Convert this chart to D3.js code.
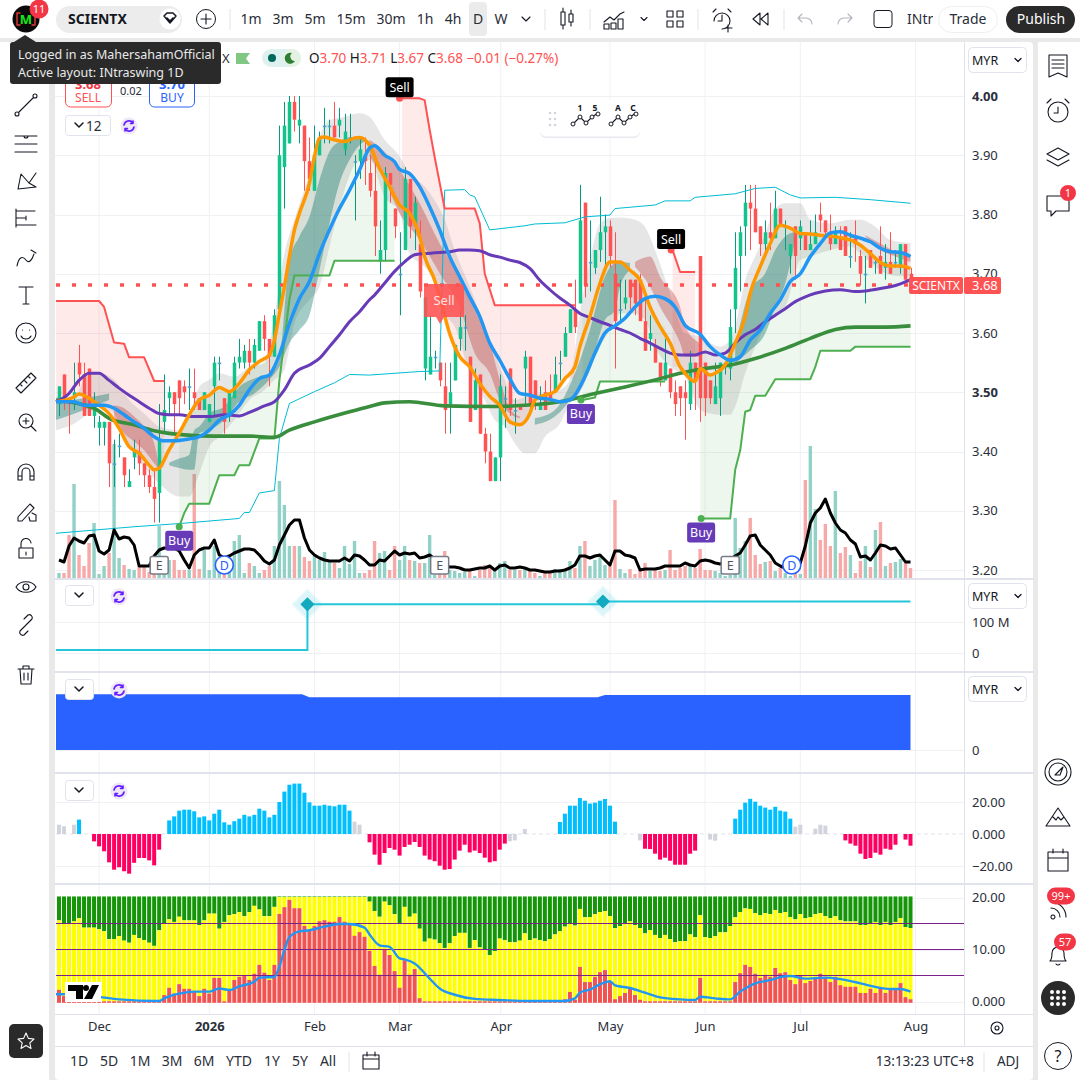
<!DOCTYPE html>
<html>
<head>
<meta charset="utf-8">
<script src="https://d3js.org/d3.v7.min.js"></script>
<style>
html, body { margin: 0; padding: 0; background: #fff; }
svg { display: block; font-family: "Noto Sans", sans-serif; }
.axis path, .axis line { display: none; }
.axis text { font-family: "Noto Sans", sans-serif; font-size: 13px; fill: #2a2e39; }
</style>
</head>
<body>
<div id="chart"></div>
<script>
// daily candles, Nov 2025 -> Jul 2026
var open = [
3.48,3.53,3.49,3.49,3.55,3.53,3.54,3.46,3.44,3.44,
3.45,3.38,3.41,3.39,3.34,3.39,3.40,3.38,3.36,3.34,
3.33,3.45,3.49,3.50,3.52,3.51,3.51,3.50,3.49,3.47,
3.45,3.51,3.55,3.49,3.46,3.49,3.55,3.55,3.57,3.55,
3.57,3.62,3.59,3.56,3.64,3.88,3.92,3.99,3.95,3.95,
3.89,3.84,3.90,3.95,3.95,3.95,3.95,3.91,3.93,3.89,
3.89,3.90,3.87,3.84,3.72,3.74,3.87,3.81,3.70,3.74,
3.86,3.78,3.75,3.54,3.53,3.56,3.55,3.51,3.48,3.52,
3.59,3.61,3.56,3.47,3.53,3.43,3.40,3.35,3.39,3.49,
3.54,3.47,3.48,3.54,3.56,3.52,3.47,3.50,3.50,3.50,
3.55,3.56,3.60,3.64,3.65,3.82,3.72,3.71,3.74,3.77,
3.78,3.70,3.64,3.65,3.69,3.69,3.69,3.62,3.59,3.58,
3.55,3.52,3.54,3.50,3.51,3.50,3.48,3.55,3.73,3.55,
3.52,3.48,3.49,3.55,3.54,3.64,3.73,3.78,3.82,3.81,
3.78,3.75,3.77,3.76,3.81,3.78,3.73,3.78,3.76,3.77,
3.74,3.75,3.80,3.79,3.77,3.75,3.76,3.78,3.73,3.76,
3.73,3.70,3.74,3.72,3.73,3.71,3.72,3.72,3.71,3.75,3.70];
var high = [
3.51,3.53,3.49,3.55,3.58,3.55,3.54,3.50,3.46,3.45,
3.45,3.42,3.43,3.39,3.37,3.42,3.42,3.38,3.37,3.37,
3.48,3.53,3.51,3.50,3.52,3.52,3.54,3.54,3.49,3.50,
3.48,3.56,3.56,3.49,3.50,3.56,3.59,3.58,3.59,3.59,
3.62,3.63,3.59,3.64,3.95,3.99,4.00,4.00,4.00,3.95,
3.93,3.95,3.94,3.98,3.96,3.99,3.98,3.97,3.97,3.90,
3.93,3.93,3.90,3.90,3.79,3.88,3.87,3.81,3.77,3.88,
3.86,3.83,3.79,3.66,3.63,3.57,3.55,3.55,3.55,3.58,
3.64,3.63,3.56,3.54,3.53,3.44,3.43,3.39,3.53,3.51,
3.54,3.49,3.48,3.57,3.56,3.52,3.51,3.52,3.53,3.56,
3.57,3.61,3.64,3.69,3.85,3.82,3.79,3.74,3.83,3.80,
3.79,3.77,3.69,3.69,3.69,3.69,3.70,3.66,3.63,3.59,
3.55,3.59,3.54,3.52,3.51,3.52,3.57,3.55,3.73,3.55,
3.52,3.55,3.55,3.55,3.64,3.77,3.78,3.85,3.85,3.85,
3.78,3.79,3.82,3.84,3.81,3.79,3.75,3.78,3.79,3.77,
3.79,3.80,3.82,3.79,3.80,3.78,3.78,3.78,3.77,3.79,
3.74,3.73,3.74,3.73,3.78,3.75,3.77,3.74,3.75,3.75,3.71];
var low = [
3.46,3.47,3.43,3.47,3.51,3.46,3.46,3.44,3.41,3.41,
3.34,3.34,3.39,3.34,3.34,3.37,3.36,3.34,3.33,3.28,
3.28,3.43,3.46,3.43,3.46,3.48,3.47,3.47,3.47,3.47,
3.45,3.46,3.52,3.43,3.45,3.49,3.54,3.54,3.53,3.54,
3.57,3.57,3.51,3.56,3.64,3.81,3.92,3.94,3.92,3.84,
3.84,3.84,3.90,3.92,3.92,3.93,3.93,3.90,3.92,3.79,
3.86,3.85,3.83,3.73,3.70,3.72,3.82,3.76,3.63,3.74,
3.76,3.74,3.66,3.52,3.53,3.54,3.51,3.43,3.43,3.52,
3.57,3.57,3.45,3.47,3.43,3.38,3.35,3.35,3.35,3.44,
3.46,3.43,3.47,3.48,3.47,3.47,3.47,3.47,3.49,3.50,
3.52,3.56,3.60,3.60,3.65,3.66,3.67,3.70,3.72,3.71,
3.71,3.54,3.62,3.64,3.64,3.63,3.62,3.57,3.57,3.55,
3.51,3.52,3.49,3.46,3.46,3.42,3.47,3.47,3.45,3.46,
3.48,3.48,3.46,3.53,3.52,3.60,3.67,3.73,3.74,3.77,
3.73,3.73,3.74,3.76,3.78,3.74,3.70,3.69,3.74,3.74,
3.74,3.75,3.77,3.76,3.74,3.75,3.74,3.73,3.71,3.72,
3.68,3.65,3.71,3.70,3.70,3.69,3.70,3.71,3.70,3.69,3.67];
var close = [
3.51,3.49,3.48,3.50,3.53,3.46,3.46,3.47,3.45,3.45,
3.38,3.38,3.41,3.36,3.35,3.40,3.38,3.36,3.34,3.32,
3.42,3.47,3.50,3.48,3.49,3.50,3.51,3.49,3.47,3.50,
3.48,3.55,3.55,3.45,3.50,3.55,3.56,3.57,3.55,3.58,
3.62,3.59,3.56,3.63,3.90,3.95,3.99,3.96,3.96,3.89,
3.86,3.90,3.93,3.95,3.95,3.93,3.96,3.94,3.93,3.89,
3.91,3.89,3.84,3.78,3.74,3.87,3.85,3.78,3.70,3.86,
3.78,3.82,3.67,3.66,3.56,3.56,3.52,3.47,3.50,3.58,
3.61,3.61,3.45,3.52,3.43,3.40,3.35,3.39,3.51,3.49,
3.47,3.47,3.47,3.56,3.48,3.49,3.48,3.47,3.49,3.53,
3.55,3.60,3.64,3.61,3.79,3.68,3.72,3.74,3.77,3.78,
3.73,3.62,3.64,3.66,3.66,3.65,3.62,3.57,3.60,3.55,
3.52,3.55,3.50,3.48,3.49,3.49,3.55,3.52,3.49,3.49,
3.49,3.51,3.55,3.55,3.61,3.71,3.77,3.82,3.81,3.77,
3.75,3.77,3.76,3.81,3.78,3.78,3.75,3.73,3.78,3.74,
3.75,3.77,3.79,3.77,3.75,3.77,3.74,3.73,3.73,3.75,
3.70,3.70,3.71,3.72,3.70,3.72,3.70,3.72,3.75,3.69,3.68];
var volume = [
5,5,43,94,23,12,35,55,4,12,
25,134,20,13,9,8,12,12,6,8,
52,17,18,18,8,8,8,104,9,28,
8,32,7,8,18,37,43,5,15,12,
5,8,12,32,97,73,32,32,32,21,
17,22,18,26,18,15,10,32,14,37,
5,5,8,37,25,27,8,32,18,32,
18,17,15,15,43,3,8,27,8,7,
5,6,7,2,8,13,10,8,15,17,
8,8,8,10,7,5,2,5,5,9,
9,8,17,10,32,37,12,18,24,13,
15,78,9,5,9,4,8,15,7,8,
7,8,28,8,10,12,12,10,29,8,
8,7,5,2,3,60,30,37,60,23,
14,16,17,7,10,5,2,5,4,98,
132,69,38,54,32,87,25,31,23,5,
17,32,11,48,56,12,15,16,19,15,10];
var blackOsc = [
18,16,32,40,37,35,42,43,27,24,
28,48,39,41,40,33,12,12,12,22,
28,30,30,30,27,18,10,23,28,30,
30,38,23,20,22,25,27,29,29,28,
23,17,14,18,33,43,53,58,58,40,
28,23,20,18,17,17,17,20,17,23,
22,18,13,13,18,17,22,27,23,25,
24,25,20,21,23,19,16,12,11,11,
10,8,8,9,10,10,12,8,12,13,
10,10,11,10,8,8,7,6,6,7,
7,8,10,13,22,22,20,22,23,18,
13,27,27,23,22,20,8,9,9,9,
10,12,12,12,12,15,13,12,17,18,
17,15,14,16,18,22,25,33,42,43,
33,28,23,15,12,10,8,10,15,32,
55,65,70,79,65,55,48,45,38,34,
21,22,18,25,33,32,29,30,23,16,16];

// moving averages, [bar, price]
var fastMA = [[-0.6,3.484],[3,3.492],[4,3.497],[6,3.49],[8,3.478],[10,3.464],[12,3.439],[14,3.408],[16,3.397],[18,3.377],[19,3.369],[20,3.372],[22,3.403],[24,3.431],[26,3.462],[28,3.487],[30,3.495],[32,3.508],[34,3.501],[36,3.515],[38,3.538],[40,3.552],[42,3.563],[43,3.588],[44,3.633],[45,3.678],[46,3.729],[47,3.774],[48,3.802],[50,3.853],[51,3.898],[52,3.929],[53,3.931],[55,3.926],[57,3.923],[59,3.929],[60,3.93],[62,3.917],[64,3.878],[66,3.847],[68,3.816],[70,3.802],[72,3.763],[73,3.729],[75,3.689],[76,3.661],[78,3.599],[80,3.56],[82,3.543],[84,3.515],[86,3.493],[88,3.478],[90,3.45],[92,3.445],[94,3.464],[95,3.487],[97,3.495],[99,3.501],[101,3.523],[103,3.543],[104,3.577],[106,3.628],[108,3.684],[110,3.72],[112,3.72],[114,3.706],[116,3.689],[118,3.644],[120,3.611],[122,3.583],[124,3.543],[125,3.532],[127,3.518],[128,3.54],[130,3.529],[131,3.532],[133,3.546],[135,3.583],[137,3.628],[138,3.667],[140,3.712],[142,3.751],[144,3.782],[146,3.777],[148,3.768],[150,3.767],[153,3.764],[156,3.761],[158,3.757],[160,3.748],[162,3.734],[164,3.719],[166,3.713],[168,3.713],[170,3.709]];
var midMA = [[-0.6,3.484],[3,3.484],[5,3.478],[9,3.478],[11,3.473],[13,3.462],[15,3.45],[17,3.439],[19,3.425],[21,3.418],[23,3.418],[25,3.42],[28,3.425],[30,3.436],[32,3.453],[34,3.462],[36,3.478],[38,3.504],[40,3.523],[42,3.529],[43,3.543],[44,3.563],[46,3.616],[48,3.658],[50,3.687],[52,3.734],[54,3.774],[56,3.81],[58,3.841],[60,3.875],[62,3.912],[63,3.916],[65,3.90],[67,3.889],[68,3.876],[70,3.869],[72,3.847],[74,3.813],[76,3.774],[78,3.729],[80,3.695],[82,3.661],[84,3.628],[86,3.583],[88,3.554],[90,3.523],[92,3.498],[94,3.495],[96,3.49],[98,3.488],[100,3.484],[102,3.487],[103,3.495],[105,3.526],[107,3.566],[109,3.60],[111,3.612],[113,3.625],[115,3.644],[117,3.658],[119,3.662],[121,3.658],[123,3.644],[125,3.613],[128,3.598],[130,3.577],[132,3.563],[134,3.554],[136,3.56],[138,3.588],[140,3.605],[142,3.633],[144,3.656],[146,3.687],[148,3.70],[150,3.729],[152,3.751],[154,3.769],[156,3.771],[158,3.765],[160,3.76],[162,3.754],[164,3.743],[166,3.737],[168,3.736],[170,3.729]];
var slowMA = [[-0.6,3.484],[2,3.498],[4,3.52],[6,3.532],[8,3.532],[10,3.52],[12,3.507],[14,3.495],[16,3.484],[18,3.473],[20,3.464],[22,3.462],[24,3.462],[27,3.459],[30,3.459],[33,3.462],[36,3.46],[38,3.466],[41,3.477],[43,3.484],[45,3.504],[47,3.532],[50,3.546],[52,3.557],[54,3.577],[56,3.597],[58,3.619],[60,3.636],[62,3.656],[63,3.664],[65,3.684],[67,3.704],[69,3.72],[71,3.732],[73,3.734],[76,3.736],[78,3.737],[80,3.74],[82,3.74],[84,3.739],[86,3.732],[88,3.728],[90,3.723],[92,3.719],[94,3.709],[96,3.689],[98,3.673],[100,3.659],[102,3.647],[104,3.633],[106,3.626],[108,3.619],[110,3.613],[112,3.606],[114,3.60],[116,3.591],[118,3.583],[120,3.574],[122,3.566],[124,3.563],[127,3.563],[129,3.568],[131,3.563],[133,3.566],[135,3.583],[137,3.597],[139,3.606],[141,3.619],[143,3.63],[145,3.641],[147,3.653],[149,3.661],[151,3.667],[153,3.671],[156,3.673],[159,3.67],[161,3.671],[164,3.675],[166,3.678],[168,3.683],[170,3.69]];
var longMA = [[-0.6,3.487],[7,3.473],[10,3.456],[15,3.445],[19,3.435],[25,3.428],[31,3.426],[38,3.426],[43,3.424],[46,3.436],[51,3.45],[58,3.467],[62,3.476],[65,3.482],[70,3.484],[77,3.477],[87,3.476],[93,3.478],[100,3.484],[107,3.498],[113,3.509],[120,3.523],[124,3.532],[129,3.54],[134,3.546],[139,3.557],[145,3.574],[150,3.591],[155,3.606],[159,3.61],[165,3.61],[170,3.612]];
var upperChannel = [[-0.6,3.262],[15,3.273],[25,3.279],[36,3.287],[37,3.297],[38,3.297],[40,3.33],[43,3.334],[44,3.422],[46,3.481],[51,3.501],[55,3.516],[58,3.53],[62,3.529],[72,3.535],[76,3.536],[77,3.841],[81,3.842],[82,3.833],[83,3.83],[86,3.774],[93,3.781],[95,3.784],[101,3.786],[105,3.796],[110,3.799],[111,3.81],[119,3.816],[121,3.823],[126,3.823],[127,3.829],[135,3.835],[139,3.844],[143,3.846],[146,3.833],[148,3.828],[155,3.829],[162,3.825],[170,3.819]];

// trailing stops, one list per trade
var sellStops = [
  [[-0.6,3.654],[8,3.654],[9,3.644],[11,3.584],[13,3.582],[14,3.559],[17,3.559],[19,3.519],[21,3.519]],
  [[68.5,3.996],[72,3.996],[73,3.993],[74,3.943],[75,3.897],[77,3.81],[83,3.81],[84,3.785],[85,3.70],[87,3.647],[103,3.647]],
  [[122.5,3.74],[124,3.703],[127,3.703]]
];
var buyStops = [
  [[24,3.273],[25,3.296],[26,3.312],[30,3.312],[32,3.36],[35,3.36],[36,3.377],[38,3.377],[40,3.422],[43,3.422],[44,3.52],[46,3.656],[47,3.697],[54,3.697],[55,3.722],[67,3.722]],
  [[104.5,3.487],[107,3.491],[108,3.518],[121,3.518]],
  [[128,3.287],[134,3.287],[135,3.369],[136,3.402],[137,3.467],[138,3.47],[139,3.494],[141,3.494],[143,3.522],[150,3.522],[151,3.543],[152,3.57],[158,3.57],[159,3.577],[170,3.577]]
];

// cloud and ribbons, [bar, top, bottom]
var grayCloud = [[-0.6,3.492,3.436],[3,3.492,3.447],[6,3.532,3.464],[8,3.532,3.476],[11,3.521,3.464],[14,3.487,3.408],[17,3.464,3.374],[20,3.442,3.346],[24,3.436,3.324],[26,3.464,3.324],[28,3.509,3.363],[30,3.521,3.408],[32,3.532,3.425],[35,3.526,3.453],[38,3.543,3.487],[41,3.549,3.504],[43,3.628,3.521],[45,3.734,3.538],[47,3.791,3.616],[50,3.869,3.656],[52,3.931,3.678],[54,3.959,3.746],[57,3.965,3.841],[60,3.971,3.892],[62,3.965,3.892],[65,3.926,3.83],[68,3.898,3.802],[70,3.869,3.734],[73,3.847,3.712],[75,3.824,3.689],[77,3.791,3.633],[79,3.74,3.611],[82,3.678,3.532],[85,3.611,3.487],[87,3.566,3.453],[89,3.521,3.442],[91,3.487,3.414],[93,3.492,3.397],[95,3.498,3.397],[97,3.498,3.425],[100,3.504,3.447],[102,3.521,3.481],[104,3.633,3.498],[106,3.723,3.538],[108,3.785,3.577],[110,3.794,3.605],[112,3.795,3.633],[115,3.791,3.633],[117,3.779,3.622],[119,3.74,3.577],[122,3.667,3.543],[125,3.599,3.526],[128,3.594,3.47],[130,3.583,3.464],[132,3.577,3.462],[134,3.588,3.462],[135,3.611,3.476],[137,3.689,3.532],[139,3.729,3.577],[141,3.768,3.611],[143,3.81,3.633],[145,3.819,3.644],[148,3.819,3.723],[150,3.791,3.729],[154,3.785,3.74],[158,3.791,3.746],[160,3.791,3.734],[163,3.779,3.712],[166,3.757,3.698],[170,3.752,3.695]];
var tealRibbons = [
  [[-0.6,3.484,3.453],[5,3.49,3.47],[10,3.498,3.487]],
  [[22,3.381,3.377],[24,3.388,3.372],[26,3.394,3.369],[27,3.436,3.369],[28,3.442,3.431],[30,3.464,3.436],[33,3.476,3.453],[36,3.509,3.484],[39,3.523,3.498],[42,3.532,3.521],[44,3.554,3.543],[46,3.723,3.583],[48,3.763,3.605],[50,3.796,3.63],[52,3.858,3.706],[54,3.906,3.785],[56,3.923,3.853],[58,3.931,3.892],[60,3.931,3.917],[61,3.929,3.923]],
  [[95,3.456,3.445],[99,3.47,3.459],[103,3.532,3.498],[106,3.605,3.543],[109,3.695,3.622],[111,3.718,3.639],[112,3.72,3.678],[114,3.718,3.706]],
  [[135,3.577,3.549],[138,3.673,3.571],[141,3.701,3.599],[143,3.74,3.644],[145,3.763,3.684],[147,3.771,3.757]]
];
var redRibbons = [
  [[11,3.478,3.453],[13,3.473,3.431],[15,3.459,3.417],[17,3.442,3.402],[19,3.414,3.38],[20,3.374,3.369]],
  [[62,3.926,3.898],[65,3.906,3.858],[68,3.875,3.802],[72,3.819,3.757],[76,3.751,3.701],[80,3.695,3.644],[83,3.639,3.566],[86,3.583,3.532],[88,3.521,3.487],[90,3.473,3.464],[92,3.459,3.456]],
  [[115,3.72,3.712],[118,3.729,3.678],[120,3.695,3.644],[124,3.644,3.583],[125,3.611,3.56],[128,3.583,3.56]],
  [[161,3.765,3.763],[164,3.751,3.74],[167,3.737,3.729],[170,3.729,3.72]]
];

// pane 2 and 3 step values
var dividendLine = [[-0.6,10],[49.6,10],[49.6,157],[108.6,157],[108.6,166],[170,166]];
var blueBlock = [[-0.6,172],[48.5,172],[50,163],[107.5,163],[109,170],[170,170]];

// pane 4 histogram
var histogram = [
5.8,4.8,0,5.8,9,0,0,-4.6,-7.7,-10.8,
-17.7,-22.3,-20.8,-23.3,-24.8,-18,-15,-15,-16.5,-19.6,
-9.8,0,8.5,11,14.6,15.2,15.2,14.2,10.4,11,
8.5,12.7,15.2,7.3,5.8,8,9.6,12,11,12,
15.8,14.6,10.4,12,20,26.5,30.8,31.5,31.5,25.8,
19.8,17.7,17.7,18.3,17.7,17.3,18.3,18.3,14.6,7.7,
5.8,0,-5.2,-12.9,-19.2,-11.9,-8.75,-9.8,-13.5,-8.1,
-6.7,-5,-8.1,-13.5,-16,-17,-19.8,-22.3,-21.9,-16,
-10.4,-6.7,-11.5,-10.4,-11.9,-14.8,-17.7,-17,-9.8,-6,
-4.6,-4,0,3.1,0,0,0,0,0,0,
7.5,12.7,17.7,17.7,22.5,20.8,19,19.6,20.8,21.9,
17.7,7.7,0,0,0,0,-4,-9.2,-9.4,-12.3,
-16,-14.8,-16.7,-19.2,-19.2,-19.2,-12.3,-10.4,0,0,
-3.5,-4.2,0,0,0,9.6,15.2,19.6,22,20.2,
17.7,16.5,15.2,17,14.6,14,9.6,4.6,5.8,0,
0,3.3,5.8,5.2,0,0,0,-4,-6,-7.3,
-12.3,-15.6,-15,-11.7,-12.9,-9.2,-9.8,-6.7,0,-3.5,-7.3];
var histGray = [0,1,3,59,60,90,91,93,116,130,131,147,148,151,152,153];

// pane 5 stacked columns
var yellowTop = [
15.6,15,15,15.4,16,14.2,14.2,14.2,13.9,13.5,
12,12,12.6,11.7,11.3,12.8,12.2,11.8,11.3,10.7,
13.7,15,15.8,15.3,16.3,15.6,15.6,15.6,14.7,15.6,
16.9,16.9,14,15.3,16.6,16.8,17.2,16.4,17.2,18.4,
17.7,16.4,16.4,18.2,20.1,20.1,20.1,20.1,20.1,20.1,
20.1,20.1,20.1,20.1,20.1,20.1,20.1,20.1,20.1,20.1,
20.1,20.1,19.2,17.4,16.3,19.2,18.5,16.8,15,18.2,
16.3,16.9,14,11.5,12.1,11.9,11.2,10.3,11.2,12.6,
13.2,13.2,10.3,11.8,10.4,9.9,8.9,9.7,12.1,11.8,
11.4,11.4,11.7,13.1,11.8,12.1,11.8,11.6,12,12.9,
13.5,14.4,14.9,14.6,17.8,16.2,16.2,16.8,17.2,17.4,
16.4,14.1,14.5,14.9,15.4,14.7,14.1,13.1,13.7,12.8,
12.2,12.8,12,11.4,11.6,11.6,12.9,12.4,16.6,12.4,
12.2,12.6,13.3,13.3,14.5,16.2,17.2,17.9,17.8,17,
16.6,17,16.8,17.6,17,17.2,16.2,15.8,16.8,16,
16.2,16.8,17,16.4,16,16.4,15.6,15.4,15.4,15.4,
14.7,14.7,14.9,15.3,14.7,15.3,14.7,15.3,16,14.3,14.1];
var redTop = [
2.2,1,1,.1,.1,.1,.1,.1,0,0,
0,0,0,0,0,0,0,0,0,0,
0,1.2,2.6,1.5,3.3,2.4,2.4,1.9,1,2.4,
1.5,4.5,4.5,0,2.2,4.1,4.7,5,4.1,5.3,
7,5.5,4.1,7,16.8,18.1,19.5,17.9,17.9,14.5,
13.7,14.5,15.4,15.6,15.3,15.3,16.2,15.3,14.7,12.6,
13.3,12.4,9.7,6.8,5.1,9.9,8.9,5.8,2.6,7.9,
5.1,6.2,.6,0,0,0,0,0,0,0,
0,0,0,0,0,0,0,0,0,0,
0,0,0,0,0,0,0,0,0,0,
0,.4,1.8,.3,6.6,3.7,3.7,4.7,5.6,6,
3.7,.4,1,1.6,2.6,1.2,.3,0,0,0,
0,0,0,0,0,0,0,0,4.5,0,
0,0,0,0,0,3.7,5.4,7,6.6,5.3,
4.5,5.1,4.7,6.4,5.4,5.6,4.1,3.3,4.9,3.5,
3.9,4.3,5.3,4.7,3.7,4.7,3.1,2.8,2.8,2.8,
1.6,1.6,2.4,1.6,2.6,1.6,2.4,2.2,3.5,.8,.4];
var pressureLine = [[-0.6,1.4],[3,1.4],[8,.9],[12,.4],[20,.1],[21,.6],[24,1.5],[27,1.9],[30,1.9],[32,2.5],[34,2.2],[36,2.9],[39,3.8],[40,4.6],[43,4.7],[44,6.7],[45,9.9],[46,12.4],[48,13.5],[50,13.7],[53,14.4],[56,14.9],[58,14.9],[61,14.2],[62,12.9],[64,10.8],[66,10.5],[68,8.3],[69,8.1],[71,7.3],[74,4.4],[76,2.5],[79,1.3],[83,.5],[88,.3],[94,.1],[101,.1],[103,.6],[104,1.7],[106,2.3],[108,3.3],[110,3.9],[111,3.1],[114,2.6],[117,1.7],[120,.8],[124,.4],[127,.3],[128,.9],[131,.6],[134,.4],[136,1.9],[139,3.5],[142,4.1],[144,4.7],[146,4.9],[149,4.4],[153,4.6],[156,4.3],[160,3.5],[163,2.8],[166,2.4],[168,2.4],[170,1.9]];
var refLevels = [15,10,5];

// axes
var priceTicks = [4.0,3.9,3.8,3.7,3.6,3.5,3.4,3.3,3.2];
var boldPrices = [4.0,3.5];
var timeTicks = [8,30,51,68,88.2,110,129,148,171];
var timeLabels = ["Dec","2026","Feb","Mar","Apr","May","Jun","Jul","Aug"];
var rangeButtons = ["1D","5D","1M","3M","6M","YTD","1Y","5Y","All"];
var intervals = ["1m","3m","5m","15m","30m","1h","4h","D","W"];
var earningsBars = [20,76,134];
var dividendBars = [33,146.3];
var signals = [
  {bar:68,price:3.996,text:"Sell"},
  {bar:122.2,price:3.74,text:"Sell"},
  {bar:24,price:3.273,text:"Buy"},
  {bar:104.2,price:3.487,text:"Buy"},
  {bar:128.2,price:3.287,text:"Buy"}
];

var svg = d3.select("#chart").append("svg").attr("width",1080).attr("height",1080);
var ink = "#131722", gridCol = "#f0f1f5", sepCol = "#e0e3eb";
var upCol = "#12c48c", upWick = "#089981", downCol = "#ff5252", purple = "#673ab7";

var x = d3.scaleLinear().domain([0,170]).range([59,910.5]);
var y = d3.scaleLinear().domain([3.2,4.0]).range([570,96]);
var volY = d3.scaleLinear().domain([0,150]).range([578,428]);
var oscY = d3.scaleLinear().domain([0,60]).range([578,518]);
var divY = d3.scaleLinear().domain([0,100]).range([653,622]);
var blockY = d3.scaleLinear().domain([0,170]).range([750,695]);
var histY = d3.scaleLinear().domain([-20,20]).range([866,802]);
var stackY = d3.scaleLinear().domain([0,20]).range([1001.5,897.5]);

// chrome background
svg.append("rect").attr("width",1080).attr("height",1080).attr("fill","#e9e9e9");
svg.append("rect").attr("x",0).attr("y",0).attr("width",1080).attr("height",38).attr("fill","#fff");
svg.append("rect").attr("x",0).attr("y",42).attr("width",49).attr("height",1038).attr("fill","#fff");
svg.append("rect").attr("x",1038).attr("y",42).attr("width",42).attr("height",1038).attr("fill","#fff");
svg.append("rect").attr("x",55).attr("y",42).attr("width",978).attr("height",1038).attr("fill","#fff").attr("rx",4);

// grid
var panes = [[42,578],[580,671],[673,772],[774,883],[885,1014]];
var grid = svg.append("g");
panes.forEach(function(p) {
  grid.selectAll(null).data(timeTicks).enter().append("line")
    .attr("x1",function(d){return x(d);}).attr("x2",function(d){return x(d);})
    .attr("y1",p[0]).attr("y2",p[1]).attr("stroke",gridCol);
});
function hGrid(vals,scale) {
  grid.selectAll(null).data(vals).enter().append("line")
    .attr("x1",55).attr("x2",964)
    .attr("y1",function(d){return Math.round(scale(d))+.5;}).attr("y2",function(d){return Math.round(scale(d))+.5;})
    .attr("stroke",gridCol);
}
hGrid(priceTicks,y);
hGrid([100,0],divY);
hGrid([0],blockY);
hGrid([20,-20],histY);
hGrid([20,10,0],stackY);
[578,579,671,672,772,773,883,884,1014].forEach(function(v) {
  grid.append("line").attr("x1",55).attr("x2",1033).attr("y1",v+.5).attr("y2",v+.5).attr("stroke",sepCol);
});
grid.append("line").attr("x1",964.5).attr("x2",964.5).attr("y1",42).attr("y2",1046).attr("stroke",sepCol);
grid.append("line").attr("x1",55).attr("x2",1033).attr("y1",1046.5).attr("y2",1046.5).attr("stroke",sepCol);

// volume
var barW = 3.4;
svg.append("g").selectAll("rect").data(volume).enter().append("rect")
  .attr("x",function(d,i){return x(i)-barW/2;})
  .attr("width",barW)
  .attr("y",function(d){return volY(d);})
  .attr("height",function(d){return volY(0)-volY(d);})
  .attr("fill",function(d,i){return close[i]>=open[i] ? "#92d1c6" : "#f7a9a7";});

// stop fills
var areaPts = d3.line().x(function(d){return x(d[0]);}).y(function(d){return y(d[1]);});
function stopFill(stop,col) {
  var a = stop[0][0], b = stop[stop.length-1][0];
  var edge = fastMA.filter(function(d){return d[0]>a && d[0]<b;}).reverse();
  var first = d3.bisector(function(d){return d[0];}).left(fastMA,a);
  var back = [[b,edge.length?edge[0][1]:stop[stop.length-1][1]]].concat(edge).concat([[a,fastMA[Math.min(first,fastMA.length-1)][1]]]);
  svg.append("path").attr("d",areaPts(stop.concat(back))).attr("fill",col);
}
sellStops.forEach(function(s){ stopFill(s,"rgba(255,82,82,.12)"); });
buyStops.forEach(function(s){ stopFill(s,"rgba(76,175,80,.10)"); });

// cloud and ribbons
function band(data,col) {
  var a = d3.area().x(function(d){return x(d[0]);}).y0(function(d){return y(d[2]);}).y1(function(d){return y(d[1]);}).curve(d3.curveMonotoneX);
  svg.append("path").attr("d",a(data)).attr("fill",col);
}
band(grayCloud,"rgba(120,120,120,.19)");
tealRibbons.forEach(function(r){ band(r,"rgba(0,115,100,.36)"); });
redRibbons.forEach(function(r){ band(r,"rgba(183,28,28,.30)"); });

// candles
var bars = d3.range(open.length);
var candles = svg.append("g");
candles.selectAll("line").data(bars).enter().append("line")
  .attr("x1",function(i){return Math.round(x(i))+.5;}).attr("x2",function(i){return Math.round(x(i))+.5;})
  .attr("y1",function(i){return y(high[i]);}).attr("y2",function(i){return y(low[i]);})
  .attr("stroke",function(i){return close[i]>open[i] ? upWick : close[i]<open[i] ? downCol : upWick;});
candles.selectAll("rect").data(bars).enter().append("rect")
  .attr("x",function(i){return Math.round(x(i))+.5-1.75;})
  .attr("width",3.5)
  .attr("y",function(i){return y(Math.max(open[i],close[i]));})
  .attr("height",function(i){return Math.max(1.6,Math.abs(y(open[i])-y(close[i])));})
  .attr("fill",function(i){return close[i]>open[i] ? upCol : close[i]<open[i] ? downCol : "#4aa3d0";});

// last price line
svg.append("line").attr("x1",56).attr("x2",908)
  .attr("y1",y(close[170])-.5).attr("y2",y(close[170])-.5)
  .attr("stroke",downCol).attr("stroke-width",3.5).attr("stroke-dasharray","4,12");

// lines
function drawLine(data,col,w,curve,scale) {
  var l = d3.line().x(function(d){return x(d[0]);}).y(function(d){return (scale||y)(d[1]);});
  if (curve) l.curve(curve);
  return svg.append("path").attr("d",l(data)).attr("fill","none").attr("stroke",col).attr("stroke-width",w).attr("stroke-linejoin","round");
}
drawLine(upperChannel,"#00bcd4",1,null);
sellStops.forEach(function(s){ drawLine(s,"#ff5252",2,null); });
buyStops.forEach(function(s){ drawLine(s,"#4caf50",2,null); });
drawLine(longMA,"#388e3c",3.6,d3.curveMonotoneX);
drawLine(slowMA,purple,3,d3.curveMonotoneX);
drawLine(fastMA,"#ff9800",3.5,d3.curveMonotoneX);
drawLine(midMA,"#2196f3",3.5,d3.curveMonotoneX);
drawLine(blackOsc.map(function(d,i){return [i,d];}),"#000",3,null,oscY);

// big sell flag
svg.append("path").attr("d","M424 288a4 4 0 0 1 4-4h32a4 4 0 0 1 4 4v29h-19l-1 0-4 7-4-7h-12z").attr("fill","#ff5252").attr("opacity",.88);
svg.append("text").attr("x",444).attr("y",305).attr("text-anchor","middle").attr("fill","#fff").attr("font-size",13).attr("opacity",.8).text("Sell");

// signal tags
signals.forEach(function(s) {
  var sell = s.text==="Sell", px = x(s.bar), py = y(s.price);
  svg.append("circle").attr("cx",px).attr("cy",py).attr("r",3.5).attr("fill",sell?"#ff5252":"#4caf50");
  var h = 20, w = 28, top = sell ? py-21 : py+4;
  svg.append("rect").attr("x",px-w/2).attr("y",top).attr("width",w).attr("height",h).attr("rx",2.5).attr("fill",sell?"#000":"#673ab7");
  svg.append("text").attr("x",px).attr("y",top+14.5).attr("text-anchor","middle").attr("fill","#fff").attr("font-size",12.5).text(s.text);
});

// earnings + dividends markers
earningsBars.forEach(function(b) {
  svg.append("rect").attr("x",x(b)-9).attr("y",556.5).attr("width",18).attr("height",17.5).attr("rx",2).attr("fill","#fff").attr("stroke","#787b86").attr("stroke-width",1.5);
  svg.append("text").attr("x",x(b)).attr("y",570).attr("text-anchor","middle").attr("font-size",12.5).attr("fill","#50535e").text("E");
});
dividendBars.forEach(function(b) {
  svg.append("circle").attr("cx",x(b)).attr("cy",565).attr("r",9).attr("fill","#fff").attr("stroke","#2962ff").attr("stroke-width",1.6);
  svg.append("text").attr("x",x(b)).attr("y",569.5).attr("text-anchor","middle").attr("font-size",12.5).attr("fill","#2962ff").text("D");
});

// pane 2
var stepLine = d3.line().x(function(d){return x(d[0]);}).y(function(d){return divY(d[1]);});
svg.append("path").attr("d",stepLine(dividendLine)).attr("fill","none").attr("stroke","#26c6da").attr("stroke-width",2);
[[49.6,157],[108.6,166]].forEach(function(d) {
  svg.append("path").attr("transform","translate("+x(d[0])+","+divY(d[1])+") rotate(45)").attr("d","M-10 -10h20v20h-20z").attr("fill","#26c6da").attr("opacity",.16).attr("stroke","#26c6da").attr("stroke-width",3).attr("stroke-opacity",.5).attr("stroke-linejoin","round");
  svg.append("path").attr("transform","translate("+x(d[0])+","+divY(d[1])+") rotate(45)").attr("d","M-5 -5h10v10h-10z").attr("fill","#13a9bf");
});

// pane 3
var blockArea = d3.area().x(function(d){return x(d[0]);}).y0(blockY(0)).y1(function(d){return blockY(d[1]);});
svg.append("path").attr("d",blockArea(blueBlock)).attr("fill","#2962ff");

// pane 4
svg.append("line").attr("x1",56).attr("x2",964).attr("y1",histY(0)).attr("y2",histY(0)).attr("stroke","#e0e3eb").attr("stroke-dasharray","4,3");
svg.append("g").selectAll("rect").data(histogram).enter().append("rect")
  .attr("x",function(d,i){return x(i)-2;})
  .attr("width",4)
  .attr("y",function(d){return d>0?histY(d):histY(0);})
  .attr("height",function(d){return Math.abs(histY(d)-histY(0));})
  .attr("fill",function(d,i){return histGray.indexOf(i)>=0 ? "#d1d4dc" : d>0 ? "#00bfff" : "#ff0062";});

// pane 5
var stackW = 4;
var stacks = svg.append("g");
stacks.selectAll(".g").data(yellowTop).enter().append("rect").attr("class","g")
  .attr("x",function(d,i){return x(i)-stackW/2;}).attr("width",stackW)
  .attr("y",stackY(20.2)).attr("height",function(d){return Math.max(0,stackY(d)-stackY(20.2));})
  .attr("fill","#149608");
stacks.selectAll(".y").data(yellowTop).enter().append("rect").attr("class","y")
  .attr("x",function(d,i){return x(i)-stackW/2;}).attr("width",stackW)
  .attr("y",function(d){return stackY(d);}).attr("height",function(d,i){return stackY(redTop[i])-stackY(d);})
  .attr("fill","#ffff00");
stacks.selectAll(".r").data(redTop).enter().append("rect").attr("class","r")
  .attr("x",function(d,i){return x(i)-stackW/2;}).attr("width",stackW)
  .attr("y",function(d){return stackY(d)-.2;}).attr("height",function(d){return stackY(-0.25)-stackY(d)+.2;})
  .attr("fill","#f05350");
svg.append("g").selectAll("line").data(refLevels).enter().append("line")
  .attr("x1",56).attr("x2",964)
  .attr("y1",function(d){return stackY(d);}).attr("y2",function(d){return stackY(d);})
  .attr("stroke","#7b1f8a").attr("stroke-width",1);
drawLine(pressureLine,"#2196f3",2.4,d3.curveMonotoneX,stackY);

// tradingview logo
svg.append("rect").attr("x",65).attr("y",982).attr("width",36).attr("height",20).attr("fill","#fff");
svg.append("path").attr("d","M68 985h15v14h-7v-8h-8zM86 985a3 3 0 1 1 0 6 3 3 0 0 1 0-6zM92 985h7l-7 14h-8z").attr("fill","#000");

// axes
function rightAxis(scale,vals,fmt) {
  var g = svg.append("g").attr("class","axis").attr("transform","translate(964,0)")
    .call(d3.axisRight(scale).tickValues(vals).tickSize(0).tickPadding(8).tickFormat(fmt));
  return g;
}
rightAxis(y,priceTicks,d3.format(".2f")).selectAll("text")
  .style("font-weight",function(d){return boldPrices.indexOf(d)>=0?"700":"400";});
rightAxis(divY,[100,0],function(d){return d?d+" M":"0";});
rightAxis(blockY,[0],function(){return "0";});
rightAxis(histY,[20,0,-20],function(d){return d===0?"0.000":d3.format(".2f")(d).replace("-","\u2212");});
rightAxis(stackY,[20,10,0],function(d){return d===0?"0.000":d3.format(".2f")(d);});

var timeAxis = svg.append("g").attr("class","axis").attr("transform","translate(0,1014)")
  .call(d3.axisBottom(x).tickValues(timeTicks).tickSize(0).tickPadding(8)
    .tickFormat(function(d,i){return timeLabels[i];}));
timeAxis.selectAll("text").style("font-weight",function(d,i){return timeLabels[i]==="2026"?"700":"400";});

// last price tags
svg.append("rect").attr("x",909).attr("y",277).attr("width",54).attr("height",17).attr("rx",2).attr("fill","#ff5252");
svg.append("rect").attr("x",964).attr("y",277).attr("width",37).attr("height",17).attr("rx",2).attr("fill","#ff5252");
svg.append("text").attr("x",936).attr("y",290).attr("text-anchor","middle").attr("font-size",12).attr("fill","#fff").text("SCIENTX");
svg.append("text").attr("x",972).attr("y",290).attr("font-size",13).attr("fill","#fff").text("3.68");

// helpers for ui
function txt(s,px,py,o) {
  o = o||{};
  return svg.append("text").attr("x",px).attr("y",py).attr("font-size",o.size||14).attr("fill",o.fill||ink)
    .attr("text-anchor",o.anchor||"start").attr("font-weight",o.weight||400).text(s);
}
function ico(d,px,py,o) {
  o = o||{};
  return svg.append("path").attr("transform","translate("+px+","+py+")").attr("d",d)
    .attr("fill",o.fill||"none").attr("stroke",o.stroke||ink).attr("stroke-width",o.w||1.1)
    .attr("stroke-linecap","round").attr("stroke-linejoin","round");
}
function badge(cx,cy,r,label,w) {
  svg.append("rect").attr("x",cx-(w||r)).attr("y",cy-r).attr("width",2*(w||r)).attr("height",2*r).attr("rx",r).attr("fill","#f23645");
  svg.append("text").attr("x",cx).attr("y",cy+4).attr("text-anchor","middle").attr("font-size",11).attr("fill","#fff").text(label);
}
function syncIcon(cx,cy) {
  svg.append("circle").attr("cx",cx).attr("cy",cy).attr("r",8.5).attr("fill","#ede7f6");
  ico("M-5 -1a5 5 0 0 1 9-2M5 1a5 5 0 0 1-9 2M4 -5v2.5h-2.5M-4 5v-2.5h2.5",cx,cy,{stroke:"#651fff",w:1.6});
}
function chevronBtn(bx,by,bw,label) {
  svg.append("rect").attr("x",bx+.5).attr("y",by+.5).attr("width",bw).attr("height",20).attr("rx",3).attr("fill","#fff").attr("stroke","#e0e3eb");
  ico("M-4 -2l4 4 4-4",bx+14,by+10,{w:1.5});
  if (label) txt(label,bx+21,by+15.5,{size:13.5,fill:"#2a2e39"});
}
function myrBtn(by) {
  svg.append("rect").attr("x",968.5).attr("y",by+.5).attr("width",58).attr("height",25).attr("rx",4).attr("fill","#fff").attr("stroke","#e0e3eb");
  txt("MYR",972,by+17.5,{size:12.5,fill:"#131722"});
  ico("M-3 -1.5l3 3 3-3",1018,by+13,{w:1.3});
}

// pane buttons
chevronBtn(65,115,45,"12"); syncIcon(129,126);
chevronBtn(65,585,28); syncIcon(119,597);
chevronBtn(65,679,28); syncIcon(119,690);
chevronBtn(65,780,28); syncIcon(119,791);
myrBtn(47); myrBtn(583); myrBtn(676);

// buy / sell box
svg.append("rect").attr("x",65.5).attr("y",72).attr("width",46).attr("height",35).attr("rx",5).attr("fill","#fff").attr("stroke","#ff5252");
svg.append("rect").attr("x",149.5).attr("y",72).attr("width",45).attr("height",35).attr("rx",5).attr("fill","#fff").attr("stroke","#2962ff");
txt("3.68",88,89,{anchor:"middle",fill:"#f23645",size:13,weight:700});
txt("SELL",88,102,{anchor:"middle",fill:"#ff5252",size:12});
txt("0.02",131,95,{anchor:"middle",fill:"#2a2e39",size:11});
txt("3.70",172,89,{anchor:"middle",fill:"#2962ff",size:13,weight:700});
txt("BUY",172,102,{anchor:"middle",fill:"#2962ff",size:12});

// legend line
txt("X",222,63,{size:13,fill:"#2a2e39"});
svg.append("path").attr("d","M236 53h14l-4 5.5 4 5.5h-14z").attr("fill","#81c784");
svg.append("rect").attr("x",262).attr("y",49).attr("width",39).attr("height",18).attr("rx",9).attr("fill","#dff1ee");
svg.append("rect").attr("x",283).attr("y",49).attr("width",18).attr("height",18).attr("rx",9).attr("fill","#e3f2e3");
svg.append("circle").attr("cx",272).attr("cy",58).attr("r",4).attr("fill","#00695c");
svg.append("path").attr("d","M292 53a5.5 5.5 0 1 0 3 8a4.5 4.5 0 0 1-3-8z").attr("fill","#2e7d32");
var legend = svg.append("text").attr("x",309).attr("y",63).attr("font-size",13.5);
[["O",ink],["3.70 ","#ff5252"],["H",ink],["3.71 ","#ff5252"],["L",ink],["3.67 ","#ff5252"],["C",ink],["3.68 ","#ff5252"],["\u22120.01 (\u22120.27%)","#ff5252"]].forEach(function(p) {
  legend.append("tspan").attr("fill",p[1]).text(p[0]);
});

// floating widget
svg.append("rect").attr("x",540).attr("y",101).attr("width",100).attr("height",37).attr("rx",6).attr("fill","#e8e9ee");
svg.append("rect").attr("x",540).attr("y",100).attr("width",100).attr("height",36.5).attr("rx",6).attr("fill","#fff");
svg.selectAll(null).data([[550,113],[555,113],[550,119],[555,119],[550,125],[555,125]]).enter().append("circle")
  .attr("cx",function(d){return d[0];}).attr("cy",function(d){return d[1];}).attr("r",1.3).attr("fill","#d1d4dc");
[[573,["1","5"]],[611,["A","C"]]].forEach(function(w) {
  ico("M0 0l7 -7 6 6 6 -6 6 -4",w[0],124);
  [[0,0],[7,-7],[13,-1],[19,-7],[25,-10]].forEach(function(p) {
    svg.append("circle").attr("cx",w[0]+p[0]).attr("cy",124+p[1]).attr("r",2).attr("fill","#fff").attr("stroke",ink);
  });
  txt(w[1][0],w[0]+7,111,{size:8.5,weight:700,anchor:"middle"});
  txt(w[1][1],w[0]+22,111,{size:8.5,weight:700,anchor:"middle"});
});

// top toolbar
svg.append("circle").attr("cx",26).attr("cy",19).attr("r",13.5).attr("fill","#0a0a0a");
txt("M",26,24,{size:13,weight:700,fill:"#19e619",anchor:"middle"});
ico("M-6 -6h-3v12h3M6 -6h3v12h-3",26,19,{stroke:"#e53935",w:1.4});
badge(39,9,9.5,"11");
svg.append("rect").attr("x",56).attr("y",6).attr("width",126).attr("height",27).attr("rx",13.5).attr("fill","#ececec");
txt("SCIENTX",68,24,{size:14,weight:700});
svg.append("circle").attr("cx",170).attr("cy",19).attr("r",10.5).attr("fill","#fff");
ico("M-6 -3l3 -3h6l3 3-6 7zM-3 -1l3 3 3-3",170,19,{w:1.5});
svg.append("circle").attr("cx",206).attr("cy",19).attr("r",9.5).attr("fill","#fff").attr("stroke",ink);
ico("M-5 0h10M0 -5v10",206,19);
svg.append("rect").attr("x",469).attr("y",2).attr("width",18).attr("height",34).attr("rx",4).attr("fill","#ebebeb");
var ivX = [251,283,315,351,391,425,453,478,501];
intervals.forEach(function(s,i){ txt(s,ivX[i],24,{size:14,anchor:"middle",fill:"#2a2e39"}); });
ico("M-4 -2l4 4 4-4",526,19);
[230,545,590,698,784].forEach(function(v) {
  svg.append("line").attr("x1",v).attr("x2",v).attr("y1",9).attr("y2",30).attr("stroke","#e0e3eb");
});
ico("M-6 -7h4v13h-4zM-4 -11v4M-4 6v4M2 -5h4v8h-4zM4 -9v4M4 3v4",567,19);
ico("M-9 3l6 -5 4 3 6 -6 4 -2M-9 10v-5h5v5zM-2 10v-6h5v6zM5 10v-10h5v10z",613,19);
ico("M-3 -1.5l3 3 3-3",644,19);
ico("M-8 -8h6v6h-6zM2 -8h6v6h-6zM-8 2h6v6h-6zM2 2h6v6h-6z",675,19);
ico("M-8 2a8 8 0 1 1 8 8M0 -4v6h-4M-9 -7l3 -3M9 -7l-3 -3M6 6v7M3 9h7",722,19);
ico("M0 -6l-7 6 7 6zM8 -6l-7 6 7 6z",760,19);
ico("M6 5a6 6 0 0 0-6 -6h-7M-4 -5l-4 4 4 4",806,19,{stroke:"#b2b5be"});
ico("M-6 5a6 6 0 0 1 6 -6h7M4 -5l4 4-4 4",844,19,{stroke:"#b2b5be"});
svg.append("rect").attr("x",874).attr("y",10.5).attr("width",18).attr("height",17).attr("rx",3).attr("fill","none").attr("stroke",ink);
txt("INtra",907,24,{size:14,fill:"#2a2e39"});
svg.append("rect").attr("x",933).attr("y",3).attr("width",6).attr("height",32).attr("fill","#fff");
svg.append("rect").attr("x",938.5).attr("y",6.5).attr("width",59).attr("height",26).attr("rx",13).attr("fill","#fff").attr("stroke","#eceef2");
txt("Trade",968,24,{size:14,anchor:"middle",fill:"#2a2e39"});
svg.append("rect").attr("x",1006).attr("y",6).attr("width",69).attr("height",27).attr("rx",13.5).attr("fill","#2a2a2a");
txt("Publish",1041,24,{size:14,anchor:"middle",fill:"#fff"});

// left toolbar
var leftIcons = [
  ["M-7 7L7 -7M-9 9m-2 0a2 2 0 1 0 4 0a2 2 0 1 0 -4 0M9 -9m-2 0a2 2 0 1 0 4 0a2 2 0 1 0 -4 0",26,105],
  ["M-11 -8h22M-11 0h22M-11 8h22M-2 -8a2 2 0 1 0 4 0",26,144],
  ["M-9 8L-6 -7 2 2 9 -8M-9 8L9 6 2 2",27,181],
  ["M-10 -9v18M-10 -7h19M-10 0h9M-10 7h20M0 -2v4",26,218],
  ["M-9 8c2-10 6-10 9-6s6 0 8-6M5 -8l5 3",26,258],
  ["M-7 -8h14M0 -8v17M-3 9h6",26,295],
  ["M10 0a10 10 0 1 1-20 0a10 10 0 1 1 20 0M-5 3c2 4 8 4 10 0M-3.5 -3h.1M3.5 -3h.1",26,333],
  ["M-10 5L5 -10l5 5L-5 10zM-6 1l2 2M-2 -3l3 3M2 -7l2 2",26,383],
  ["M7 0a7 7 0 1 1-14 0a7 7 0 1 1 14 0M5 5l5 5M-3 0h6M0 -3v6",26,421],
  ["M-8 8v-8a8 8 0 0 1 16 0v8h-4v-8a4 4 0 0 0-8 0v8zM-8 4h4M4 4h4",26,472],
  ["M-8 6L4 -7l4 4L-4 10h-4zM6 2l4 2v6h-6l-1-4",26,511],
  ["M-7 -1h14v10h-14zM-5 -1v-4a5 5 0 0 1 10 -1M0 3v3",26,549],
  ["M-10 0c4-7 16-7 20 0c-4 7-16 7-20 0zM3 0a3 3 0 1 1-6 0a3 3 0 1 1 6 0",26,587],
  ["M-2 2l-4 4a3 3 0 0 0 4 4l4-4M2 -2l4-4a3 3 0 0 0-4-4l-4 4M-3 3l6-6",26,625],
  ["M-8 -6h16M-6 -6l1 15h10l1-15M-3 -6v-3h6v3M-2 -2v7M2 -2v7",26,675]
];
leftIcons.forEach(function(c){ ico(c[0],c[1],c[2]); });
svg.append("rect").attr("x",9).attr("y",1024).attr("width",34).attr("height",34).attr("rx",5).attr("fill","#2a2a2a");
ico("M0 -8l2.4 5.4 5.6.6-4.2 3.8 1.2 5.7-5-2.9-5 2.9 1.2-5.7-4.2-3.8 5.6-.6z",26,1041,{stroke:"#fff"});

// right toolbar
var rightIcons = [
  ["M-9 -11h18v22l-9 -4-9 4zM-6 -6h12M-6 -2h12M-6 2h12",1058,66],
  ["M-10 1a10 10 0 1 1 20 0a10 10 0 1 1-20 0M0 -4v6h-4M-11 -8l4 -4M11 -8l-4 -4",1058,111],
  ["M0 -9l11 6-11 6-11-6zM-11 3l11 6 11-6",1058,157],
  ["M-11 -8h22v15h-13l-5 5v-5h-4z",1058,204],
  ["M13 0a13 13 0 1 1-26 0a13 13 0 1 1 26 0M9 0a9 9 0 1 1-18 0a9 9 0 1 1 18 0M-3 3l8-8-3 8z",1058,772],
  ["M-12 9L0 -9 12 9zM-5 0l3 3 2-3 3 3 3-3",1058,817],
  ["M-10 -8h20v19h-20zM-10 -2h20M-5 -11v4M5 -11v4",1058,860],
  ["M-7 -8a15 15 0 0 1 15 15M-7 -2a9 9 0 0 1 9 9M-5 5a2 2 0 1 1-.1 0",1058,910],
  ["M-8 6c2-2 2-5 2-8a6 6 0 0 1 12 0c0 3 0 6 2 8zM-2 9a2.5 2.5 0 0 0 4 0",1058,955]
];
rightIcons.forEach(function(c){ ico(c[0],c[1],c[2]); });
badge(1068,193,8,"1");
badge(1061,896,8.5,"99+",14);
badge(1065,942,8.5,"57",11);
svg.append("circle").attr("cx",1058).attr("cy",998).attr("r",17).attr("fill","#2a2a2a");
svg.selectAll(null).data([[-6,-6],[0,-6],[6,-6],[-6,0],[0,0],[6,0],[-6,6],[0,6],[6,6]]).enter().append("circle")
  .attr("cx",function(d){return 1058+d[0];}).attr("cy",function(d){return 998+d[1];}).attr("r",2).attr("fill","#fff");
svg.append("circle").attr("cx",1058).attr("cy",1056).attr("r",13.5).attr("fill","none").attr("stroke",ink);
txt("?",1058,1062,{size:16,anchor:"middle"});

// bottom toolbar
var rangeX = [79,109,140,172,204,239,272,300,328];
rangeButtons.forEach(function(s,i){ txt(s,rangeX[i],1066,{size:14,anchor:"middle",fill:"#2a2e39"}); });
ico("M-8 -6h16v14h-16zM-8 -2h16M-4 -9v4M4 -9v4",371,1061);
svg.append("line").attr("x1",349).attr("x2",349).attr("y1",1052).attr("y2",1072).attr("stroke","#e0e3eb");
txt("13:13:23 UTC+8",974,1066,{size:13.5,anchor:"end",fill:"#2a2e39"});
svg.append("line").attr("x1",984).attr("x2",984).attr("y1",1052).attr("y2",1072).attr("stroke","#e0e3eb");
txt("ADJ",1008,1066,{size:13.5,anchor:"middle",fill:"#2a2e39"});
ico("M6 0a6 6 0 1 1-12 0a6 6 0 1 1 12 0M2 0a2 2 0 1 1-4 0a2 2 0 1 1 4 0",997,1028);

// account tooltip, over the chart
svg.append("path").attr("d","M14 42l11 -7 11 7z").attr("fill","#2a2a2a");
svg.append("rect").attr("x",10).attr("y",42).attr("width",211).attr("height",42).attr("rx",3).attr("fill","#2a2a2a");
txt("Logged in as MahersahamOfficial",18,59,{size:12.5,fill:"#e8e8e8"});
txt("Active layout: INtraswing 1D",18,77,{size:12.5,fill:"#e8e8e8"});
</script>
</body>
</html>
